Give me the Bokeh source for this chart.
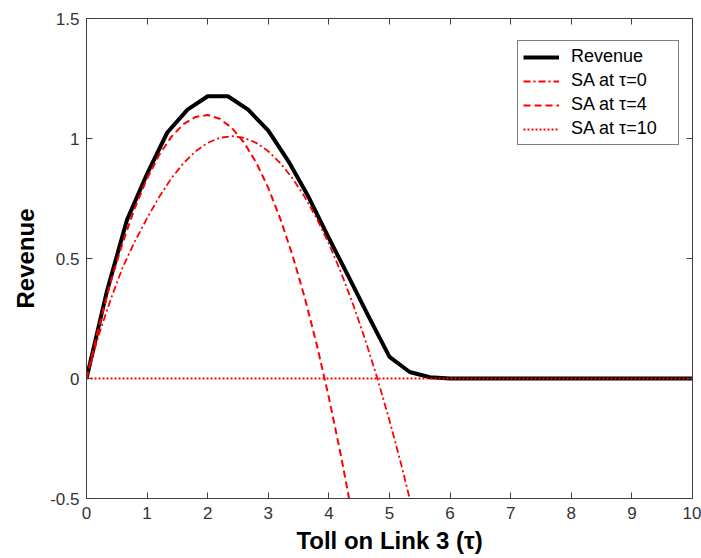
from bokeh.plotting import figure
from bokeh.models import LinearAxis, FixedTicker, Legend, LegendItem, Range1d
from bokeh.embed import file_html
from bokeh.resources import INLINE

# ---- data ----
rev_x = [0, 0.333, 0.667, 1.0, 1.333, 1.667, 2.0, 2.333, 2.667, 3.0, 3.333, 3.667,
         4.0, 4.333, 4.667, 5.0, 5.333, 5.667, 6.0, 7.0, 8.0, 9.0, 10.0]
rev_y = [0, 0.36, 0.66, 0.853, 1.025, 1.12, 1.176, 1.176, 1.12, 1.033, 0.905, 0.755,
         0.585, 0.42, 0.253, 0.09, 0.027, 0.005, 0, 0, 0, 0, 0]

sa0_x = [0, 0.2, 0.4, 0.6, 0.8, 1.0, 1.2, 1.4, 1.6, 1.8, 2.0, 2.2, 2.4, 2.6, 2.8,
         3.0, 3.2, 3.4, 3.6, 3.8, 4.0, 4.2, 4.4, 4.6, 4.8, 5.0, 5.2, 5.4]
sa0_y = [0, 0.18, 0.33, 0.465, 0.572, 0.668, 0.757, 0.834, 0.897, 0.947, 0.982,
         1.003, 1.010, 1.003, 0.982, 0.947, 0.897, 0.834, 0.757, 0.666, 0.561,
         0.442, 0.308, 0.161, 0.0, -0.175, -0.365, -0.568]

sa4_x = [0, 0.2, 0.4, 0.6, 0.8, 1.0, 1.2, 1.4, 1.6, 1.8, 2.0, 2.2, 2.4, 2.6, 2.8,
         3.0, 3.2, 3.4, 3.6, 3.8, 4.0, 4.2, 4.4]
sa4_y = [0, 0.212, 0.402, 0.568, 0.712, 0.833, 0.932, 1.007, 1.060, 1.090, 1.098,
         1.082, 1.044, 0.983, 0.900, 0.794, 0.664, 0.513, 0.338, 0.141, -0.080,
         -0.323, -0.588]

sa10_x = [0, 10]
sa10_y = [0, 0]

series_labels = ["Revenue", "SA at \u03c4=0", "SA at \u03c4=4", "SA at \u03c4=10"]

x_ticks = [0, 1, 2, 3, 4, 5, 6, 7, 8, 9, 10]
x_tick_labels = ["0", "1", "2", "3", "4", "5", "6", "7", "8", "9", "10"]
y_ticks = [-0.5, 0, 0.5, 1, 1.5]
y_tick_labels = ["-0.5", "0", "0.5", "1", "1.5"]

x_title = "Toll on Link 3 (\u03c4)"
y_title = "Revenue"

# ---- styling ----
AX = "#3f3f3f"
FONT = "Liberation Sans"

p = figure(width=701, height=558, output_backend="svg", toolbar_location=None,
           x_range=Range1d(0, 10), y_range=Range1d(-0.5, 1.5),
           min_border_left=86, min_border_right=9, min_border_top=18,
           min_border_bottom=60)
p.grid.visible = False
p.background_fill_color = "white"
p.border_fill_color = "white"
p.outline_line_color = AX
p.outline_line_width = 1


def style_axis(ax, ticks, labels, show_labels=True):
    ax.ticker = FixedTicker(ticks=ticks)
    ax.axis_line_color = AX
    ax.major_tick_line_color = AX
    ax.major_tick_in = 6
    ax.major_tick_out = 0
    ax.minor_tick_in = 0
    ax.minor_tick_out = 0
    ax.minor_tick_line_color = None
    if show_labels:
        ax.major_label_overrides = dict(zip(ticks, labels))
        ax.major_label_text_font = FONT
        ax.major_label_text_font_size = "17px"
        ax.major_label_text_color = "#333333"
    else:
        ax.major_label_text_color = None
        ax.major_label_text_font_size = "0px"
        ax.major_label_standoff = 0


xa = p.xaxis[0]
style_axis(xa, x_ticks, x_tick_labels)
xa.major_label_standoff = 8
xa.axis_label = x_title
xa.axis_label_text_font = FONT
xa.axis_label_text_font_style = "bold"
xa.axis_label_text_font_size = "24px"
xa.axis_label_text_color = "black"
xa.axis_label_standoff = 5

ya = p.yaxis[0]
style_axis(ya, y_ticks, y_tick_labels)
ya.major_label_standoff = 7
ya.axis_label = y_title
ya.axis_label_text_font = FONT
ya.axis_label_text_font_style = "bold"
ya.axis_label_text_font_size = "24px"
ya.axis_label_text_color = "black"
ya.axis_label_standoff = 8

top = LinearAxis()
style_axis(top, x_ticks, x_tick_labels, show_labels=False)
p.add_layout(top, "above")
right = LinearAxis()
style_axis(right, y_ticks, y_tick_labels, show_labels=False)
p.add_layout(right, "right")

# ---- lines ----
r_rev = p.line(rev_x, rev_y, line_color="black", line_width=4, line_join="round")
r_sa0 = p.line(sa0_x, sa0_y, line_color="red", line_width=1.8, line_dash="7 3 2 3")
r_sa4 = p.line(sa4_x, sa4_y, line_color="red", line_width=2, line_dash="7 4")
r_sa10 = p.line(sa10_x, sa10_y, line_color="red", line_width=2, line_dash="2 2")

legend = Legend(
    items=[LegendItem(label=lab, renderers=[r])
           for lab, r in zip(series_labels, [r_rev, r_sa0, r_sa4, r_sa10])],
    location=(431, 353), margin=0, padding=5, spacing=3,
    glyph_width=36, glyph_height=20, label_height=20, label_width=102,
    label_standoff=12, label_text_font=FONT, label_text_font_size="18px",
    label_text_color="black",
    border_line_color="black", border_line_width=1,
    background_fill_color="white", background_fill_alpha=1.0)
p.add_layout(legend)

open("out.html", "w").write(file_html(p, INLINE))
